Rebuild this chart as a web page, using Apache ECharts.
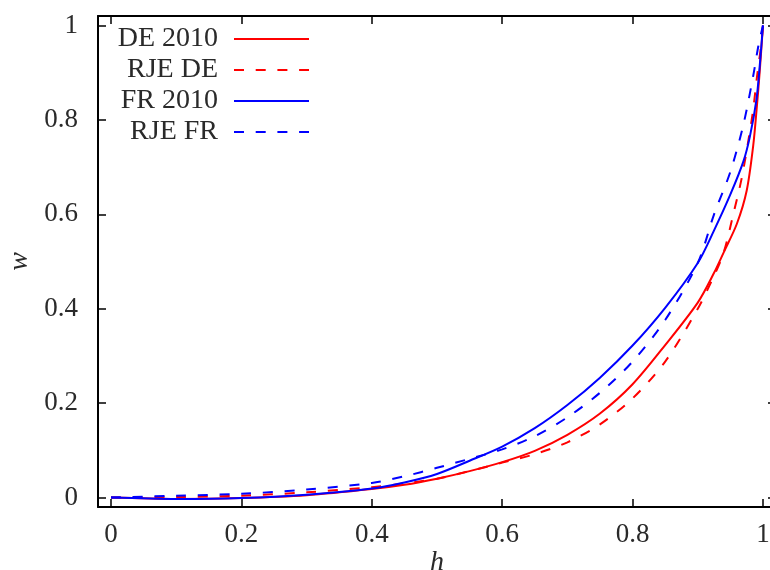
<!DOCTYPE html>
<html>
<head>
<meta charset="utf-8">
<script src="https://cdn.jsdelivr.net/npm/echarts@6/dist/echarts.min.js"></script>
<style>html,body{margin:0;padding:0;background:#fff}#c{width:770px;height:570px}</style>
</head>
<body>
<div id="c"></div>
<script>
// ---- data ----
const tickValues = [0, 0.2, 0.4, 0.6, 0.8, 1];
const tickLabels = ['0', '0.2', '0.4', '0.6', '0.8', '1'];

const seriesNames = ['DE 2010', 'RJE DE', 'FR 2010', 'RJE FR'];

const deH = [0, 0.1, 0.2, 0.3, 0.4, 0.45, 0.5, 0.55, 0.6, 0.65, 0.7, 0.75, 0.8, 0.85, 0.9, 0.925, 0.94, 0.96, 0.975, 0.985, 0.99, 0.995, 1.0];
const deW = [0, -0.003, -0.001, 0.005, 0.018, 0.027, 0.040, 0.056, 0.075, 0.099, 0.133, 0.178, 0.240, 0.323, 0.413, 0.476, 0.520, 0.580, 0.650, 0.745, 0.818, 0.902, 1.0];

const rjeDeH = [0, 0.1, 0.2, 0.3, 0.4, 0.45, 0.5, 0.55, 0.6, 0.65, 0.7, 0.75, 0.8, 0.85, 0.9, 0.925, 0.94, 0.955, 0.967, 0.977, 0.985, 0.991, 0.997, 1.0];
const rjeDeW = [0, 0.001, 0.004, 0.011, 0.022, 0.030, 0.040, 0.056, 0.074, 0.092, 0.117, 0.155, 0.210, 0.288, 0.400, 0.470, 0.520, 0.603, 0.674, 0.751, 0.822, 0.893, 0.956, 1.0];

const frH = [0, 0.1, 0.2, 0.3, 0.4, 0.45, 0.5, 0.55, 0.6, 0.65, 0.7, 0.75, 0.8, 0.85, 0.9, 0.925, 0.95, 0.97, 0.98, 0.99, 0.995, 1.0];
const frW = [0, -0.003, -0.001, 0.006, 0.019, 0.032, 0.050, 0.078, 0.108, 0.147, 0.196, 0.254, 0.322, 0.402, 0.497, 0.566, 0.642, 0.712, 0.765, 0.843, 0.914, 1.0];

const rjeFrH = [0, 0.1, 0.2, 0.3, 0.4, 0.45, 0.5, 0.55, 0.6, 0.65, 0.7, 0.75, 0.8, 0.85, 0.9, 0.925, 0.95, 0.97, 0.985, 0.993, 1.0];
const rjeFrW = [0, 0.004, 0.008, 0.017, 0.031, 0.045, 0.063, 0.082, 0.102, 0.130, 0.170, 0.222, 0.288, 0.376, 0.497, 0.600, 0.690, 0.790, 0.893, 0.957, 1.0];

// ---- chart ----
const FONT = '"Liberation Serif", "Times New Roman", serif';
const TXT = '#2a2a2a';
const pair = (xs, ys) => xs.map((x, i) => [x, ys[i]]);
const fmt = v => { const i = tickValues.findIndex(t => Math.abs(t - v) < 1e-6); return i < 0 ? '' : tickLabels[i]; };

const chart = echarts.init(document.getElementById('c'), null, {renderer: 'canvas'});

const axisLineStyle = {show: true, onZero: false, lineStyle: {color: '#000', width: 2}};
const tickStyle = {show: true, inside: true, length: 8, lineStyle: {color: '#000', width: 1.5}};

function mkSeries(name, data, color, dashed) {
  return {
    name, type: 'line', data, symbol: 'none', smooth: 0.3,
    lineStyle: {color, width: 2, type: dashed ? [10, 11.7] : 'solid'},
    itemStyle: {color},
    animation: false, z: 3
  };
}

const legendRows = [39, 70, 101, 132];
const legends = seriesNames.map((n, i) => ({
  data: [n], right: 460, top: legendRows[i] - 14, orient: 'vertical', align: 'right',
  padding: 0, itemWidth: 75, itemHeight: 28, selectedMode: false,
  itemStyle: {color: 'rgba(0,0,0,0)', borderWidth: 0, opacity: 0},
  textStyle: {fontFamily: FONT, fontSize: 28, color: TXT, padding: [0, 11, 0, 0]}
}));

chart.setOption({
  animation: false,
  backgroundColor: '#fff',
  grid: {left: 98, right: -6, top: 16, bottom: 63, containLabel: false, outerBoundsMode: 'none'},
  legend: legends,
  xAxis: [{
    type: 'value', min: -0.02, max: 1.02, position: 'bottom',
    axisLine: axisLineStyle,
    axisTick: Object.assign({customValues: tickValues}, tickStyle),
    axisLabel: {customValues: tickValues, formatter: fmt,
      fontFamily: FONT, fontSize: 27, color: TXT, margin: 14},
    splitLine: {show: false},
    name: 'h', nameLocation: 'middle', nameGap: 42, nameMoveOverlap: false,
    nameTextStyle: {fontFamily: FONT, fontSize: 28, fontStyle: 'italic', color: TXT}
  }, {
    type: 'value', min: -0.02, max: 1.02, position: 'top',
    axisLine: axisLineStyle,
    axisTick: Object.assign({customValues: tickValues}, tickStyle),
    axisLabel: {show: false}, splitLine: {show: false}
  }],
  yAxis: [{
    type: 'value', min: -0.02, max: 1.02, position: 'left',
    axisLine: axisLineStyle,
    axisTick: Object.assign({customValues: tickValues}, tickStyle),
    axisLabel: {customValues: tickValues, formatter: fmt,
      fontFamily: FONT, fontSize: 27, color: TXT, margin: 20},
    splitLine: {show: false},
    name: 'w', nameLocation: 'middle', nameGap: 64, nameRotate: 90, nameMoveOverlap: false,
    nameTextStyle: {fontFamily: FONT, fontSize: 28, fontStyle: 'italic', color: TXT}
  }, {
    type: 'value', min: -0.02, max: 1.02, position: 'right',
    axisLine: axisLineStyle,
    axisTick: Object.assign({customValues: tickValues}, tickStyle),
    axisLabel: {show: false}, splitLine: {show: false}
  }],
  series: [
    mkSeries(seriesNames[0], pair(deH, deW), '#ff0000', false),
    mkSeries(seriesNames[1], pair(rjeDeH, rjeDeW), '#ff0000', true),
    mkSeries(seriesNames[2], pair(frH, frW), '#0000ff', false),
    mkSeries(seriesNames[3], pair(rjeFrH, rjeFrW), '#0000ff', true)
  ]
});
</script>
</body>
</html>
